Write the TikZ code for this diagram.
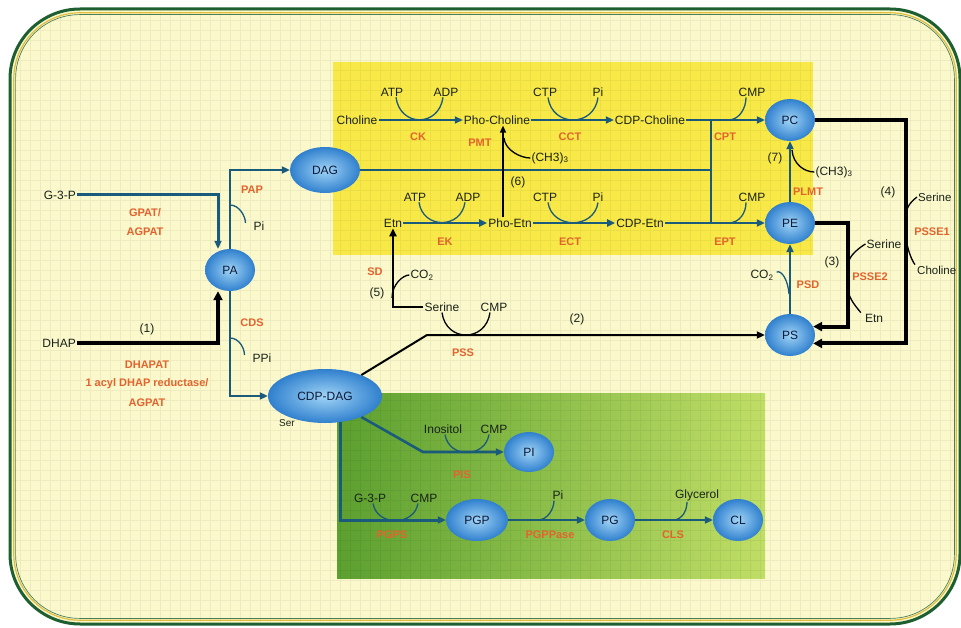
\documentclass[tikz,border=0pt]{standalone}
\usepackage{fontspec}
\setmainfont{Liberation Sans}
\usetikzlibrary{arrows.meta,shapes.geometric,calc}
\definecolor{bgfill}{RGB}{251,248,204}
\definecolor{framegreen}{RGB}{30,95,50}
\definecolor{frameyel}{RGB}{225,190,60}
\definecolor{yelbox}{RGB}{248,233,72}
\definecolor{grnL}{RGB}{92,160,48}
\definecolor{grnR}{RGB}{192,222,102}
\definecolor{pathc}{RGB}{26,90,122}
\definecolor{molin}{RGB}{160,212,246}
\definecolor{molout}{RGB}{48,128,206}
\definecolor{moltext}{RGB}{15,25,55}
\definecolor{cofc}{RGB}{25,35,25}
\definecolor{enzc}{RGB}{226,100,45}
\begin{document}
\begin{tikzpicture}[x=1pt,y=-1pt,
  mol/.style={ellipse, shading=radial, inner color=molin, outer color=molout, minimum width=#1, minimum height=42pt, inner sep=0pt, font=\fontsize{12}{14}\selectfont, text=moltext},
  cof/.style={font=\fontsize{12}{14}\selectfont, text=cofc, inner sep=1pt},
  enz/.style={font=\bfseries\fontsize{11}{13}\selectfont, text=enzc, inner sep=0pt},
  num/.style={font=\fontsize{12}{14}\selectfont, text=cofc, inner sep=0pt},
  tpath/.style={draw=pathc, line width=2.6pt},
  tarr/.style={tpath, -{Triangle[length=8pt,width=7pt]}},
  bpath/.style={draw=black, line width=4pt},
  barr/.style={bpath, -{Triangle[length=9pt,width=9pt]}},
  tharr/.style={draw=black, line width=2pt, -{Triangle[length=8pt,width=7pt]}},
  hook/.style={draw=pathc, line width=1.3pt},
  hookb/.style={draw=black, line width=1.3pt},
]
\useasboundingbox (0,0) rectangle (961,628);
\fill[white] (0,0) rectangle (961,628);
% frame
\fill[bgfill, draw=framegreen, line width=3pt, rounded corners=70pt] (10,9) rectangle (960,624);
\begin{scope}
  \clip[rounded corners=68pt] (12,11) rectangle (958,622);
  \fill[yelbox] (333,62) rectangle (813,255);
  \shade[left color=grnL, right color=grnR] (337,393) rectangle (765,578);
  \draw[black, opacity=0.05, line width=0.5pt, step=10pt] (0,628) grid (961,0);
\end{scope}
\draw[frameyel, line width=1.2pt, rounded corners=66pt] (13.8,12.8) rectangle (956.2,620.2);
\draw[framegreen!80, line width=0.7pt, rounded corners=64pt] (15.6,14.6) rectangle (954.4,618.4);

% ---------- left part
\node[cof, anchor=east] (g3p) at (77,195) {G-3-P};
\node[cof, anchor=east] (dhap) at (77,343) {DHAP};
\node[enz] (gpat) at (145,213) {GPAT/};
\node[enz] (agpat1) at (145,232) {AGPAT};
\node[num] (n1) at (147,329) {(1)};
\node[enz] (dhapat) at (147,365) {DHAPAT};
\node[enz] (acyl) at (147,384) {1 acyl DHAP reductase/};
\node[enz] (agpat2) at (147,403) {AGPAT};
\node[mol=50pt] (pa) at (230,270) {PA};
\node[mol=70pt, minimum height=46pt] (dag) at (325,170) {DAG};
\node[cof, font=\fontsize{10}{12}\selectfont] (ser) at (287,423) {Ser};
\node[mol=114pt, minimum height=54pt] (cdpdag) at (325,396) {CDP-DAG};
\node[enz] (pap) at (252,190) {PAP};
\node[cof] (pipa) at (259,226) {Pi};
\node[enz] (cds) at (252,323) {CDS};
\node[cof] (ppi) at (262,358) {PPi};

% ---------- yellow region
\node[cof] (choline) at (357,120) {Choline};
\node[cof] (phochol) at (497,120) {Pho-Choline};
\node[cof] (cdpchol) at (650,120) {CDP-Choline};
\node[cof] (etn) at (393,223) {Etn};
\node[cof] (phoetn) at (510,223) {Pho-Etn};
\node[cof] (cdpetn) at (640,223) {CDP-Etn};
\node[mol=50pt] (pc) at (790,120) {PC};
\node[mol=50pt] (pe) at (790,223) {PE};
\node[mol=50pt] (ps) at (790,335) {PS};
\node[cof] (atp1) at (392,92) {ATP};
\node[cof] (adp1) at (446,92) {ADP};
\node[cof] (ctp1) at (545,92) {CTP};
\node[cof] (pi1) at (598,92) {Pi};
\node[cof] (cmp1) at (752,92) {CMP};
\node[cof] (atp2) at (415,197) {ATP};
\node[cof] (adp2) at (468,197) {ADP};
\node[cof] (ctp2) at (545,197) {CTP};
\node[cof] (pi2) at (598,197) {Pi};
\node[cof] (cmp2) at (752,197) {CMP};
\node[cof] (ch3a) at (550,158) {(CH3)\textsubscript{3}};
\node[cof] (ch3b) at (834,172) {(CH3)\textsubscript{3}};
\node[enz] (ck) at (418,137) {CK};
\node[enz] (pmt) at (480,143) {PMT};
\node[enz] (cct) at (570,137) {CCT};
\node[enz] (cpt) at (725,137) {CPT};
\node[enz] (ek) at (445,242) {EK};
\node[enz] (ect) at (570,242) {ECT};
\node[enz] (ept) at (725,242) {EPT};
\node[enz] (plmt) at (808,192) {PLMT};
\node[num] (n6) at (518,182) {(6)};
\node[num] (n7) at (775,158) {(7)};

% ---------- middle band
\node[enz] (sd) at (375,272) {SD};
\node[num] (n5) at (377,293) {(5)};
\node[cof] (co2sd) at (422,275) {CO\textsubscript{2}};
\node[cof] (serpss) at (442,307) {Serine};
\node[cof] (cmppss) at (494,307) {CMP};
\node[enz] (pss) at (463,353) {PSS};
\node[num] (n2) at (577,319) {(2)};
\node[cof] (co2psd) at (762,275) {CO\textsubscript{2}};
\node[enz] (psd) at (808,285) {PSD};
\node[num] (n3) at (832,262) {(3)};
\node[cof] (serine3) at (884,244) {Serine};
\node[enz] (psse2) at (870,277) {PSSE2};
\node[cof] (etn3) at (874,318) {Etn};
\node[num] (n4) at (888,192) {(4)};
\node[cof, font=\fontsize{11.5}{13}\selectfont, anchor=west] (serine4) at (917,197) {Serine};
\node[enz] (psse1) at (932,232) {PSSE1};
\node[cof, font=\fontsize{11.5}{13}\selectfont, anchor=west] (choline4) at (916,270) {Choline};

% ---------- green region
\node[mol=50pt, minimum height=40pt] (pi) at (529,452) {PI};
\node[mol=62pt] (pgp) at (477,520) {PGP};
\node[mol=50pt] (pg) at (610,520) {PG};
\node[mol=50pt] (cl) at (738,520) {CL};
\node[cof] (inositol) at (443,429) {Inositol};
\node[cof] (cmppi) at (494,429) {CMP};
\node[enz] (pis) at (462,475) {PIS};
\node[cof] (g3pb) at (370,498) {G-3-P};
\node[cof] (cmpb) at (424,498) {CMP};
\node[enz] (pgps) at (392,535) {PGPS};
\node[cof] (pib) at (558,495) {Pi};
\node[enz] (pgppase) at (550,535) {PGPPase};
\node[cof] (glycerol) at (697,495) {Glycerol};
\node[enz] (cls) at (673,535) {CLS};

% ---------- coordinates
\coordinate (jm) at (711,170);
\coordinate (jt) at (711,120);
\coordinate (jb) at (711,223);
\coordinate (x503) at (503,0);
\coordinate (c4) at (906,200);
\coordinate (c3) at (848,280);
\coordinate (k2) at (427,335);
\coordinate (k5) at (423,452);

% ---------- connectors
\draw[tarr, line width=3pt] (g3p.east) -| ([xshift=-12pt]pa.north);
\draw[barr, line width=3.5pt] (dhap.east) -| ([xshift=-12pt]pa.south);
\draw[tarr] (pa.north) |- (dag.west);
\draw[tarr] (pa.south) |- (cdpdag.west);
\draw[tpath] (dag.east) -- (jm);
\draw[tpath] (jt) -- (jb);
\draw[tarr] (choline.east) -- (phochol.west);
\draw[tarr] (phochol.east) -- (cdpchol.west);
\draw[tarr] (cdpchol.east) -- (pc.west);
\draw[tarr] (etn.east) -- (phoetn.west);
\draw[tarr] (phoetn.east) -- (cdpetn.west);
\draw[tarr] (cdpetn.east) -- (pe.west);
\draw[draw=black, line width=1.4pt, -{Triangle[length=7pt,width=6pt]}] (phoetn.north -| x503) -- (phochol.south -| x503);
\draw[tarr, line width=2pt] (pe.north) -- (pc.south);
\draw[tarr] (ps.north) -- (pe.south);
\draw[barr] (pc.east) -| (c4) |- (ps.-20);
\draw[barr] (pe.east) -| (c3) |- (ps.20);
\draw[tharr] (cdpdag.30) -- (k2) -- (ps.west);
\draw[tharr, line width=2.2pt] (serpss.west) -| (etn.south);
\draw[tarr, line width=3pt] (cdpdag.-60) |- (pgp.west);
\draw[tarr] (cdpdag.-30) -- (k5) -- (pi.west);
\draw[tarr] (pgp.east) -- (pg.west);
\draw[tarr] (pg.east) -- (cl.west);

% ---------- co-substrate hooks
\draw[hook] ([xshift=4pt]atp1.south) .. controls +(4,30) and +(-4,30) .. ([xshift=-3pt]adp1.south);
\draw[hook] ([xshift=3pt]ctp1.south) .. controls +(4,30) and +(-4,30) .. (pi1.south);
\draw[hook] ([xshift=4pt]atp2.south) .. controls +(4,27) and +(-4,27) .. ([xshift=-3pt]adp2.south);
\draw[hook] ([xshift=3pt]ctp2.south) .. controls +(4,27) and +(-4,27) .. (pi2.south);
\coordinate (h1) at (728,120);
\coordinate (h2) at (728,223);
\draw[hook] (h1) .. controls +(12,0) and +(0,10) .. ([xshift=-6pt]cmp1.south);
\draw[hook] (h2) .. controls +(12,0) and +(0,10) .. ([xshift=-6pt]cmp2.south);
\coordinate (h3) at (504,138);
\draw[hookb] (h3) .. controls +(1,12) and +(-10,0) .. (ch3a.west);
\coordinate (h4) at (792,150);
\draw[hookb] (h4) .. controls +(1,14) and +(-10,0) .. (ch3b.west);
\coordinate (h5) at (230,205);
\draw[hook] (h5) .. controls +(9,0) and +(0,-7) .. ([xshift=-7pt,yshift=3pt]pipa.west);
\coordinate (h6) at (230,338);
\draw[hook] (h6) .. controls +(9,0) and +(0,-7) .. ([xshift=-7pt,yshift=3pt]ppi.west);
\coordinate (h7) at (392,298);
\draw[hookb] (h7) .. controls +(0,-14) and +(-6,0) .. (co2sd.west);
\draw[hookb] (serpss.south) .. controls +(4,30) and +(-4,30) .. ([xshift=-4pt]cmppss.south);
\coordinate (h8) at (789,294);
\draw[hook] (h8) .. controls +(-1,-14) and +(5,-2) .. ([xshift=2pt,yshift=3pt]co2psd.east);
\coordinate (h9) at (906,214);
\draw[hookb] (h9) .. controls +(1,-9) and +(-4,3) .. (serine4.west);
\coordinate (h10) at (906,238);
\draw[hookb] (h10) .. controls +(1,9) and +(-4,-5) .. ([xshift=-1pt]choline4.north west);
\coordinate (h11) at (848,264);
\draw[hookb] (h11) .. controls +(1,-9) and +(-5,3) .. (serine3.west);
\coordinate (h12) at (848,290);
\draw[hookb] (h12) .. controls +(1,9) and +(-4,-5) .. ([xshift=-3pt]etn3.north west);
\draw[hook] ([xshift=2pt]inositol.south) .. controls +(4,24) and +(-4,24) .. ([xshift=-5pt]cmppi.south);
\draw[hook] ([xshift=3pt]g3pb.south) .. controls +(4,23) and +(-4,23) .. ([xshift=-6pt]cmpb.south);
\coordinate (h13) at (538,520);
\draw[hook] (h13) .. controls +(9,0) and +(0,9) .. ([xshift=-4pt]pib.south);
\coordinate (h14) at (673,520);
\draw[hook] (h14) .. controls +(9,0) and +(0,9) .. ([xshift=-10pt]glycerol.south);
\end{tikzpicture}
\end{document}
